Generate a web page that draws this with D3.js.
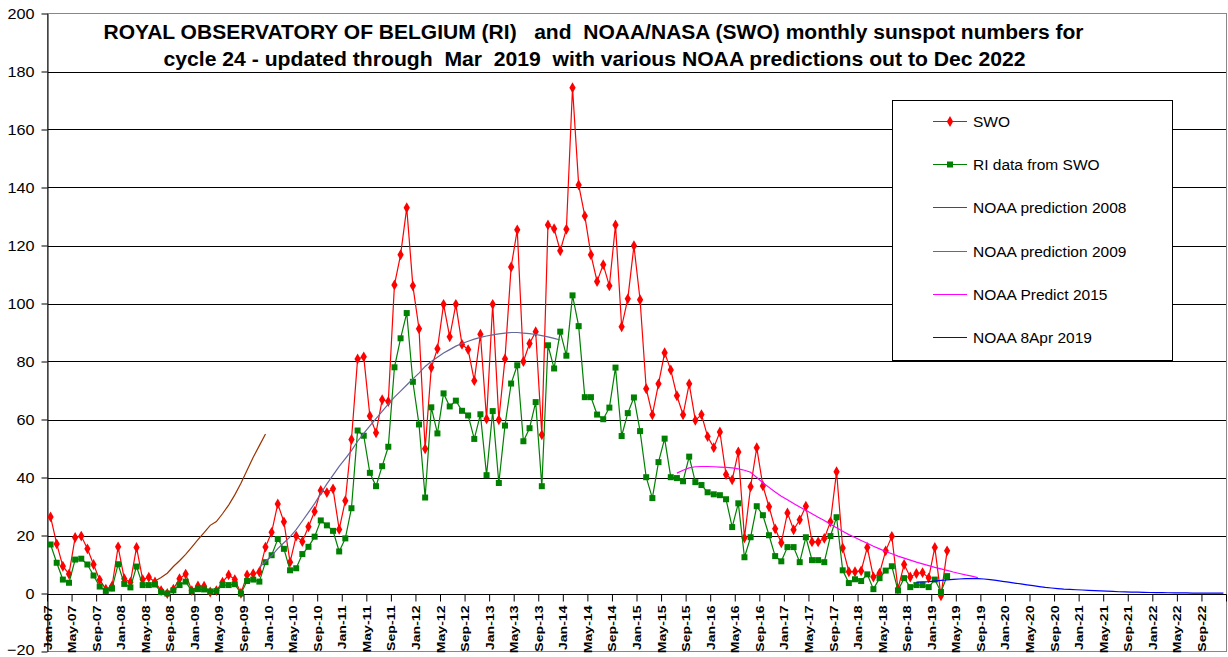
<!DOCTYPE html>
<html><head><meta charset="utf-8">
<script src="https://cdn.jsdelivr.net/npm/d3@7"></script>
<style>
html,body{margin:0;padding:0;background:#fff;}
svg{display:block;font-family:"Liberation Sans",Arial,sans-serif;}
</style></head>
<body><svg id="c" width="1228" height="657"></svg>
<script>
// ---- data ----
const startMonth = new Date(2007, 0, 1);
const endMonth = new Date(2023, 0, 1);
const titleLines = [
  "ROYAL OBSERVATORY OF BELGIUM (RI)   and  NOAA/NASA (SWO) monthly sunspot numbers for",
  "cycle 24 - updated through  Mar  2019  with various NOAA predictions out to Dec 2022"
];
const yTicks = [-20, 0, 20, 40, 60, 80, 100, 120, 140, 160, 180, 200];

// SWO monthly sunspot number, Jan 2007 - Mar 2019
const swo = [
  26.4,17.1,9.4,6.7,19.3,19.8,15.4,10.0,4.7,1.5,2.5,16.1,
  5.1,3.9,15.9,4.8,5.6,4.0,1.0,0.0,1.5,5.1,6.7,1.0,
  2.6,2.5,0.5,1.0,3.9,6.4,4.8,0.1,6.4,6.8,7.4,16.0,
  21.1,30.9,24.7,10.8,19.8,17.9,23.0,28.3,35.5,34.8,36.1,22.1,
  32.0,53.1,80.9,81.6,61.2,55.4,66.8,66.2,106.4,116.8,133.0,106.1,
  91.3,49.9,77.9,84.4,99.7,88.5,99.7,85.9,84.1,73.4,89.4,60.2,
  99.7,59.9,80.9,112.6,125.4,80.0,86.2,90.3,54.7,127.1,125.8,118.2,
  125.6,174.4,140.9,130.2,116.8,107.6,113.4,106.1,127.1,92.0,101.6,119.9,
  101.3,70.6,61.6,72.3,83.0,77.1,68.2,61.6,72.3,59.7,61.7,54.1,
  50.3,55.7,41.0,39.2,48.8,19.2,36.8,50.3,37.1,29.9,22.3,17.5,
  27.8,22.0,25.4,30.1,17.8,17.8,19.0,24.7,42.0,15.7,7.5,7.5,
  7.8,15.9,5.7,7.0,14.7,19.7,1.6,10.0,5.7,6.9,7.2,5.4,
  15.9,-0.8,14.7
];
// RI data from SWO, Jan 2007 - Mar 2019
const ri = [
  16.9,10.6,4.8,3.7,11.7,12.0,10.0,6.2,2.4,0.9,1.7,10.1,
  3.3,2.1,9.3,2.9,2.9,3.1,0.5,0.0,1.1,2.9,4.1,0.8,
  1.5,1.4,0.7,0.8,2.9,2.9,3.2,0.0,4.3,4.8,4.1,10.8,
  13.2,18.8,15.4,8.0,8.7,13.6,16.1,19.6,25.2,23.5,21.6,14.5,
  19.0,29.4,56.2,54.4,41.6,37.0,43.9,50.6,78.0,88.0,96.7,73.0,
  58.3,33.1,64.2,55.2,69.0,64.5,66.5,63.0,61.4,53.3,61.8,40.8,
  62.9,38.1,57.9,72.4,78.7,52.5,57.0,66.0,37.0,85.6,77.6,90.3,
  82.0,102.8,92.2,67.7,67.7,61.7,60.1,64.1,77.9,54.3,62.2,67.6,
  56.0,40.1,32.9,45.3,53.4,40.1,39.8,38.7,47.2,38.4,37.4,34.9,
  34.2,33.9,32.5,22.9,31.1,12.5,19.4,30.1,27.0,20.1,12.9,11.1,
  16.0,16.0,10.8,19.4,11.5,11.5,10.8,19.8,26.3,8.0,3.6,4.9,
  4.3,6.6,1.5,5.3,7.9,9.4,1.0,5.3,2.2,2.9,2.9,2.2,
  4.8,0.5,6.0
];
// NOAA prediction 2008: Jun 2008 - Dec 2009
const pred2008Start = 17;
const pred2008 = [4.3,5.5,7.0,9.3,11.3,13.5,16.0,18.6,21.0,23.5,24.8,27.5,30.5,34.0,38.0,42.5,47.0,51.0,55.0];
// NOAA prediction 2009: Nov 2009 - Dec 2013
const pred2009Start = 34;
const pred2009 = [9,11,13,15.5,17.5,19.5,22,25,28,31,34.5,37.8,40.8,43.8,46.5,49.3,52.5,55.2,57.8,60.3,
  62.8,65.3,67.7,69.8,71.9,74,76,78.3,80,81.5,82.9,84.1,85.3,86.2,87,87.7,88.3,88.8,89.2,89.5,
  89.8,90,90,89.8,89.6,89.3,88.9,88.5,88,87.4];
// NOAA Predict 2015: Jul 2015 - Aug 2019
const pred2015Start = 102;
const pred2015 = [41.5,42.5,43.3,43.7,43.8,43.8,43.7,43.6,43.5,43.3,43.0,42.5,41.8,40.0,38.2,36.6,35.0,33.5,32.3,31.0,
  29.8,28.7,27.5,26.3,25.2,23.9,22.7,21.5,20.3,19.3,18.3,17.3,16.3,15.4,14.5,13.7,12.9,12.2,11.5,10.8,
  10.2,9.6,9.0,8.5,8.0,7.4,6.9,6.4,6.0,5.5];
// NOAA 8Apr 2019: Oct 2018 - Dec 2022
const pred2019Start = 141;
const pred2019 = [3.9,4.0,4.1,4.3,4.5,4.7,4.9,5.0,5.1,5.1,5.1,5.0,4.8,4.5,4.2,3.9,3.6,3.3,3.0,2.7,
  2.4,2.1,1.9,1.7,1.5,1.4,1.3,1.2,1.1,1.0,0.9,0.8,0.7,0.6,0.55,0.5,0.45,0.4,0.35,0.3,
  0.3,0.25,0.2,0.2,0.2,0.15,0.15,0.1,0.1,0.1,0.1];

const seriesNames = ["SWO","RI data from SWO","NOAA prediction 2008","NOAA prediction 2009","NOAA Predict 2015","NOAA 8Apr 2019"];
const seriesColors = ["#FF0000","#008000","#993300","#666699","#FF00FF","#0000FF"];

// ---- chart ----
const svg = d3.select("#c");
const months = d3.timeMonth.range(startMonth, endMonth);
const fmt = d3.timeFormat("%b-%y");
const L = 47.5, R = 1226.5, T = 13.5, B = 651.5;
const x = d3.scaleBand().domain(d3.range(months.length)).range([L, R]).padding(0);
const bw = x.bandwidth();
const cx = i => x(i) + bw / 2;
const y = d3.scaleLinear().domain([-20, 200]).range([B, T]);

svg.append("rect").attr("width",1228).attr("height",657).attr("fill","#fff");

// grid lines
svg.append("g").selectAll("line").data(yTicks.filter(v => v > -20 && v < 200)).join("line")
  .attr("x1", L).attr("x2", R).attr("y1", d => Math.round(y(d)) + 0.5).attr("y2", d => Math.round(y(d)) + 0.5)
  .attr("stroke", "#000").attr("stroke-width", 1);
// plot border (grey)
svg.append("rect").attr("x", L).attr("y", T).attr("width", R - L).attr("height", B - T)
  .attr("fill", "none").attr("stroke", "#888").attr("stroke-width", 1);

// y axis
const yAxis = svg.append("g").attr("transform", `translate(${L},0)`)
  .call(d3.axisLeft(y).tickValues(yTicks).tickSize(6).tickPadding(7).tickSizeOuter(0));
yAxis.select(".domain").attr("stroke", "#000");
yAxis.selectAll(".tick line").attr("stroke", "#000");
yAxis.selectAll(".tick text").attr("font-size", 15).attr("fill", "#000")
  .attr("font-family", '"Liberation Sans",Arial,sans-serif')
  .each(function(d) {
    const t = d3.select(this);
    const xx = +t.attr("x");
    const shift = d === -20 ? -2 : 0;
    t.attr("x", null).attr("dy", "0.36em").attr("transform", `translate(${xx},${shift}) scale(1.08,1)`);
  });

// x axis line at 0
const y0 = Math.round(y(0)) + 0.5;
svg.append("line").attr("x1", L).attr("x2", R).attr("y1", y0).attr("y2", y0).attr("stroke", "#000");
const tickIdx = d3.range(0, months.length + 1, 4);
svg.append("g").selectAll("line").data(tickIdx).join("line")
  .attr("x1", d => (d < months.length ? x(d) : R)).attr("x2", d => (d < months.length ? x(d) : R))
  .attr("y1", y0).attr("y2", y0 + 7).attr("stroke", "#000");
svg.append("g").selectAll("text").data(d3.range(0, months.length, 4)).join("text")
  .attr("transform", d => `translate(${x(d) + 4},${y0 + 11}) rotate(-90) scale(1.28,1)`)
  .attr("text-anchor", "end").attr("font-size", 11).attr("font-weight", "bold").attr("fill", "#000")
  .text(d => fmt(months[d]));

// lines
const lineGen = d3.line().x(d => cx(d[0])).y(d => y(d[1]));
function series(vals, start) { return vals.map((v, i) => [start + i, v]); }
const swoPts = series(swo, 0), riPts = series(ri, 0);

svg.append("path").datum(swoPts).attr("d", lineGen).attr("fill", "none").attr("stroke", seriesColors[0]).attr("stroke-width", 1.2);
svg.append("g").selectAll("path").data(swoPts).join("path")
  .attr("d", d3.symbol(d3.symbolDiamond, 34)).attr("transform", d => `translate(${cx(d[0])},${y(d[1])})`)
  .attr("fill", seriesColors[0]);
svg.append("path").datum(riPts).attr("d", lineGen).attr("fill", "none").attr("stroke", seriesColors[1]).attr("stroke-width", 1.2);
svg.append("g").selectAll("rect").data(riPts).join("rect")
  .attr("x", d => cx(d[0]) - 3).attr("y", d => y(d[1]) - 3).attr("width", 6).attr("height", 6)
  .attr("fill", seriesColors[1]);

[[pred2008, pred2008Start, 2], [pred2009, pred2009Start, 3], [pred2015, pred2015Start, 4], [pred2019, pred2019Start, 5]]
  .forEach(([vals, st, k]) => {
    svg.append("path").datum(series(vals, st)).attr("d", lineGen).attr("fill", "none")
      .attr("stroke", seriesColors[k]).attr("stroke-width", 1.2);
  });

// title
const tg = svg.append("g").attr("font-weight", "bold").attr("font-size", 19.5).attr("fill", "#000");
tg.append("text").attr("x", 103.5).attr("y", 38.5).attr("textLength", 980).attr("lengthAdjust", "spacingAndGlyphs")
  .style("white-space", "pre").text(titleLines[0]);
tg.append("text").attr("x", 163.5).attr("y", 65.5).attr("textLength", 862).attr("lengthAdjust", "spacingAndGlyphs")
  .style("white-space", "pre").text(titleLines[1]);

// legend
const lg = svg.append("g");
lg.append("rect").attr("x", 892.5).attr("y", 100.5).attr("width", 280).attr("height", 260)
  .attr("fill", "#fff").attr("stroke", "#000").attr("stroke-width", 1);
const rowY = d3.scaleLinear().domain([0, 5]).range([121, 337]);
seriesNames.forEach((name, i) => {
  const ry = Math.round(rowY(i)) + 0.5;
  lg.append("line").attr("x1", 933).attr("x2", 967).attr("y1", ry).attr("y2", ry).attr("stroke", seriesColors[i]).attr("stroke-width", 1.2);
  if (i === 0) lg.append("path").attr("d", d3.symbol(d3.symbolDiamond, 34)).attr("transform", `translate(950,${ry})`).attr("fill", seriesColors[0]);
  if (i === 1) lg.append("rect").attr("x", 947).attr("y", ry - 3).attr("width", 6).attr("height", 6).attr("fill", seriesColors[1]);
  lg.append("text").attr("x", 973).attr("y", ry).attr("dy", "0.36em").attr("font-size", 15.5)
    .attr("fill", "#000").text(name);
});
</script></body></html>
